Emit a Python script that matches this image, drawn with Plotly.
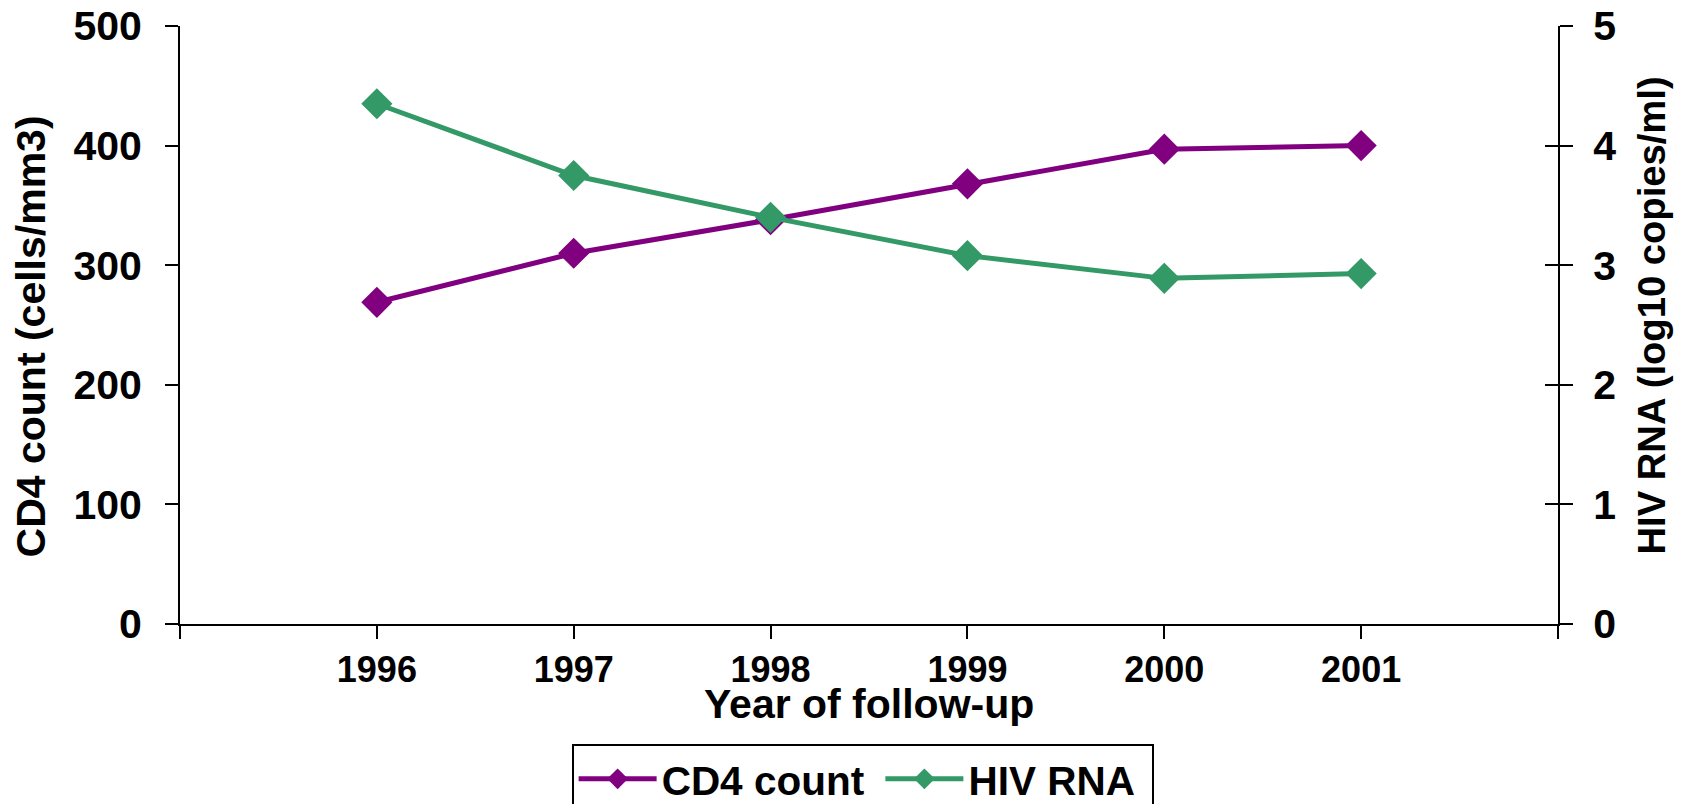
import plotly.graph_objects as go

# Follow-up years and the yearly means of the two markers
years = [1996, 1997, 1998, 1999, 2000, 2001]
cd4_count = [269, 310, 338, 368, 397, 400]          # cells/mm3
hiv_rna = [4.35, 3.75, 3.40, 3.08, 2.89, 2.93]      # log10 copies/ml

x_tickvals = [1995, 1996, 1997, 1998, 1999, 2000, 2001, 2002]
x_ticktext = ["", "1996", "1997", "1998", "1999", "2000", "2001", ""]
cd4_ticks = [0, 100, 200, 300, 400, 500]
rna_ticks = [0, 1, 2, 3, 4, 5]

PURPLE = "#800080"
GREEN = "#339966"
FONT = "Liberation Sans"
NBSP = "\u00a0"

fig = go.Figure()
fig.add_trace(go.Scatter(
    x=years, y=cd4_count, name="CD4 count" + NBSP, mode="lines+markers",
    line=dict(color=PURPLE, width=5),
    marker=dict(symbol="diamond", size=24, color=PURPLE),
    yaxis="y",
))
fig.add_trace(go.Scatter(
    x=years, y=hiv_rna, name="HIV RNA" + NBSP, mode="lines+markers",
    line=dict(color=GREEN, width=5),
    marker=dict(symbol="diamond", size=24, color=GREEN),
    yaxis="y2",
))


def bold(size):
    return dict(family=FONT, size=size, color="black", weight="bold")


axis_common = dict(
    showgrid=False, zeroline=False, showline=True, automargin=False,
    linecolor="black", linewidth=2,
    tickcolor="black", tickwidth=2, ticklen=13,
)

# axis titles, placed in paper coordinates
titles = [
    dict(text="Year of follow-up", x=0.5, y=-0.1338, textangle=0,
         font=bold(41)),
    dict(text="CD4 count (cells/mm3)", x=-0.1078, y=0.4816, textangle=-90,
         font=bold(41)),
    dict(text="HIV RNA (log10 copies/ml)", x=1.0675, y=0.5159, textangle=-90,
         font=bold(38.2)),
]

fig.update_layout(
    width=1683, height=804,
    margin=dict(l=180, r=125, t=26, b=180, autoexpand=False),
    paper_bgcolor="white", plot_bgcolor="white",
    font=bold(40),
    xaxis=dict(
        **axis_common,
        range=[1995, 2002], tickmode="array",
        tickvals=x_tickvals, ticktext=x_ticktext, ticks="outside",
        tickfont=bold(36),
    ),
    yaxis=dict(
        **axis_common,
        range=[0, 500], tickmode="array", tickvals=cd4_ticks, ticks="outside",
        tickfont=bold(41), ticklabelstandoff=15,
    ),
    yaxis2=dict(
        **axis_common,
        range=[0, 5], tickmode="array", tickvals=rna_ticks, ticks="outside",
        tickfont=bold(41), ticklabelstandoff=12,
        overlaying="y", side="right", anchor="x",
    ),
    # inner half of the crossing tick marks on the right-hand axis
    yaxis3=dict(
        range=[0, 5], tickmode="array", tickvals=rna_ticks, ticks="inside",
        ticklen=13, tickwidth=2, tickcolor="black", automargin=False,
        showticklabels=False, showgrid=False, zeroline=False, showline=False,
        overlaying="y", side="right", anchor="x",
    ),
    showlegend=True,
    legend=dict(
        orientation="h", xref="paper", yref="container",
        x=0.2842, y=0.0746, xanchor="left", yanchor="top",
        bordercolor="black", borderwidth=2, bgcolor="white",
        font=bold(40.5), itemwidth=78,
    ),
    annotations=[
        dict(t, xref="paper", yref="paper", xanchor="center",
             yanchor="middle", showarrow=False)
        for t in titles
    ],
)

# invisible trace carrying the inner tick axis
fig.add_trace(go.Scatter(x=[years[0]], y=[0], yaxis="y3", mode="markers",
                         marker=dict(opacity=0), showlegend=False,
                         hoverinfo="skip"))

fig.write_html("out.html")
